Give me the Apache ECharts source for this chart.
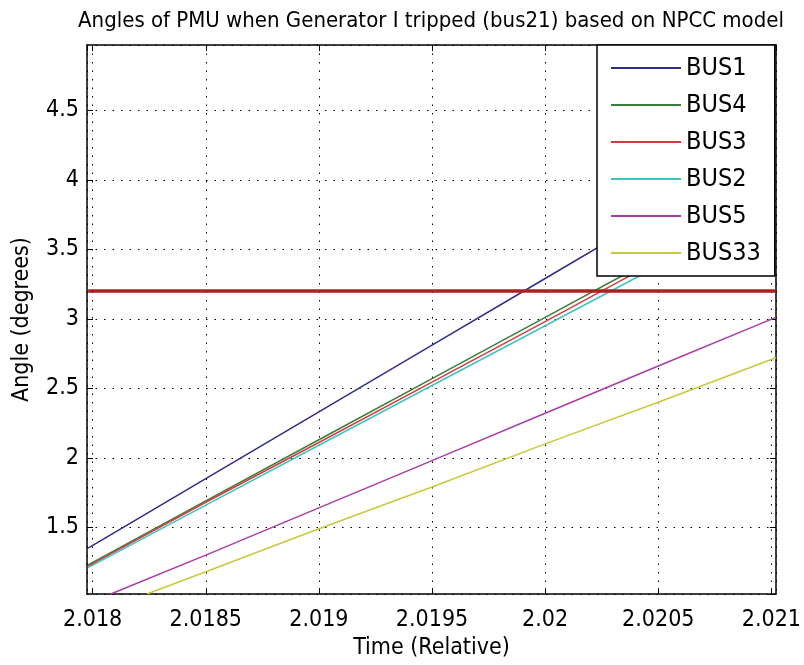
<!DOCTYPE html>
<html>
<head>
<meta charset="utf-8">
<script src="https://cdn.jsdelivr.net/npm/echarts@6/dist/echarts.min.js"></script>
<style>html,body{margin:0;padding:0;background:#fff;}#c{width:804px;height:665px;}</style>
</head>
<body>
<div id="c"></div>
<script>
const times   = [2.01798, 2.0185, 2.019, 2.0195, 2.02, 2.0205, 2.02102];
const bus1    = [1.35, 1.85, 2.33, 2.81, 3.29, 3.77, 4.27];
const bus4    = [1.23, 1.69, 2.13, 2.57, 3.01, 3.45, 3.91];
const bus3    = [1.22, 1.68, 2.11, 2.545, 2.98, 3.42, 3.87];
const bus2    = [1.21, 1.66, 2.09, 2.52, 2.95, 3.38, 3.83];
const times5  = [2.01808, 2.0185, 2.019, 2.0195, 2.02, 2.0205, 2.02102];
const bus5    = [1.02, 1.30, 1.64, 1.98, 2.32, 2.66, 3.01];
const times33 = [2.01824, 2.0185, 2.019, 2.0195, 2.02, 2.0205, 2.02102];
const bus33   = [1.02, 1.18, 1.49, 1.79, 2.10, 2.40, 2.72];
const thresholdTimes = [2.01798, 2.02102];
const thresholdVals  = [3.2, 3.2];
const seriesNames = ['BUS1', 'BUS4', 'BUS3', 'BUS2', 'BUS5', 'BUS33'];
const xTickStep = 0.0005;
const yTickStep = 0.5;

const FONT = '"DejaVu Sans Condensed", "Liberation Sans Narrow", "Liberation Sans", sans-serif';
const pair = (xs, ys) => xs.map((x, i) => [x, ys[i]]);
const fmt = step => v => {
  const r = Math.round(v / step);
  if (Math.abs(v - r * step) > step * 1e-3) return '';
  return String(+(r * step).toFixed(6));
};
const xMin = 2.017975, xMax = 2.02102, yMin = 1.02, yMax = 4.97;
const dotted = { show: true, lineStyle: { color: '#000', width: 1, type: [1.5, 7] } };

const colors = ['#2e2e88', '#3a7d3a', '#d43c3c', '#3cc4c4', '#a83ca8', '#c8c83c'];
const datas = [pair(times, bus1), pair(times, bus4), pair(times, bus3), pair(times, bus2), pair(times5, bus5), pair(times33, bus33)];

const series = seriesNames.map((n, i) => ({
  name: n, type: 'line', data: datas[i], showSymbol: false, symbol: 'none',
  lineStyle: { color: colors[i], width: 1.5 }, itemStyle: { color: colors[i] },
  animation: false, z: 3
}));
series.push({
  name: 'threshold', type: 'line', data: pair(thresholdTimes, thresholdVals), symbol: 'none',
  lineStyle: { color: '#b01e1e', width: 3.5 }, itemStyle: { color: '#b01e1e' }, animation: false, z: 4
});

const chart = echarts.init(document.getElementById('c'), null, { renderer: 'canvas' });
chart.setOption({
  backgroundColor: '#fff',
  animation: false,
  title: {
    text: 'Angles of PMU when Generator I tripped (bus21) based on NPCC model',
    left: 426, textAlign: 'center', top: 5,
    textStyle: { fontFamily: FONT, fontSize: 22, fontWeight: 'normal', color: '#000' }
  },
  legend: {
    data: seriesNames, orient: 'vertical', left: 597, top: 45, width: 175,
    padding: [8, 14, 8, 14], itemGap: 7, itemWidth: 70, itemHeight: 2, icon: 'rect',
    backgroundColor: '#fff', borderColor: '#000', borderWidth: 1.5,
    textStyle: { fontFamily: FONT, fontSize: 25, color: '#000', lineHeight: 30 },
    z: 10
  },
  grid: { left: 87, right: 23, top: 45, bottom: 71, containLabel: false },
  xAxis: [{
    type: 'value', min: xMin, max: xMax, splitNumber: 6,
    name: 'Time (Relative)', nameLocation: 'middle', nameGap: 42,
    nameTextStyle: { fontFamily: FONT, fontSize: 23, color: '#000' },
    axisLine: { show: true, lineStyle: { color: '#000', width: 1.5 } },
    axisTick: { show: true, inside: true, length: 6, lineStyle: { color: '#000' } },
    axisLabel: { formatter: fmt(xTickStep), showMinLabel: false, showMaxLabel: false, margin: 15,
      fontFamily: FONT, fontSize: 23, color: '#000' },
    splitLine: dotted
  }, {
    type: 'value', min: xMin, max: xMax, splitNumber: 6, position: 'top',
    axisLine: { show: true, lineStyle: { color: '#000', width: 1.5 } },
    axisTick: { show: true, inside: true, length: 6, lineStyle: { color: '#000' } },
    axisLabel: { show: false }, splitLine: { show: false }
  }],
  yAxis: [{
    type: 'value', min: yMin, max: yMax, splitNumber: 7,
    name: 'Angle (degrees)', nameLocation: 'middle', nameGap: 53, nameRotate: 90,
    nameTextStyle: { fontFamily: FONT, fontSize: 23, color: '#000' },
    axisLine: { show: true, lineStyle: { color: '#000', width: 1.5 } },
    axisTick: { show: true, inside: true, length: 6, lineStyle: { color: '#000' } },
    axisLabel: { formatter: fmt(yTickStep), showMinLabel: false, showMaxLabel: false, margin: 8,
      fontFamily: FONT, fontSize: 23, color: '#000' },
    splitLine: dotted
  }, {
    type: 'value', min: yMin, max: yMax, splitNumber: 7, position: 'right',
    axisLine: { show: true, lineStyle: { color: '#000', width: 1.5 } },
    axisTick: { show: true, inside: true, length: 6, lineStyle: { color: '#000' } },
    axisLabel: { show: false }, splitLine: { show: false }
  }],
  series: series
});
</script>
</body>
</html>
